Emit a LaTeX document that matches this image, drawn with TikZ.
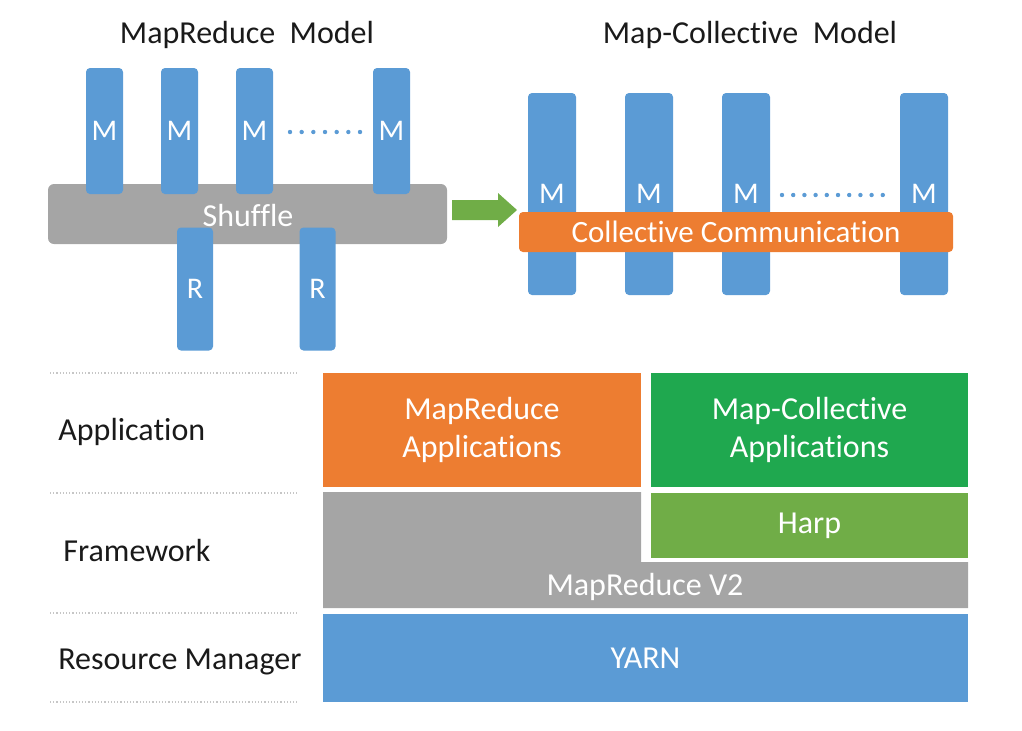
\documentclass[tikz,border=0pt]{standalone}
\usepackage{fontspec}
\setmainfont{Carlito}[Ligatures={NoCommon}]
\usetikzlibrary{calc}
\definecolor{mblue}{HTML}{5B9BD5}
\definecolor{morange}{HTML}{ED7D31}
\definecolor{mgray}{HTML}{A5A5A5}
\definecolor{mgreen}{HTML}{1FA84F}
\definecolor{hgreen}{HTML}{70AD47}
\definecolor{labtext}{HTML}{1A1A1A}
\begin{document}
\begin{tikzpicture}[x=0.5pt,y=-0.5pt,
  blk/.style={rectangle, inner sep=0pt, text=white, font=\fontsize{16}{19}\selectfont, align=center},
  mbox/.style={blk, fill=mblue, rounded corners=2pt, font=\fontsize{15}{18}\selectfont},
  ttl/.style={font=\fontsize{16}{19}\selectfont, text=labtext, inner sep=0pt},
  layerlab/.style={ttl, anchor=west},
  guide/.style={draw=gray!45, line width=0.6pt, densely dotted}]
\useasboundingbox (0,0) rectangle (1022,730);

% titles
\node[ttl] (t1) at (247,35) {MapReduce\ \ Model};
\node[ttl] (t2) at (750,35) {Map-Collective\ \ Model};

% MapReduce model
\node[blk, fill=mgray, rounded corners=3pt, minimum width=199.5pt, minimum height=30pt] (shuffle) at (247.5,214) {};
\node[blk] (shtext) at (248,215) {Shuffle};
\node[mbox, minimum width=18.5pt, minimum height=63pt] (m1) at (104.5,131) {M};
\node[mbox, minimum width=18.5pt, minimum height=63pt] (m2) at (179.5,131) {M};
\node[mbox, minimum width=18.5pt, minimum height=63pt] (m3) at (254.5,131) {M};
\node[mbox, minimum width=18.5pt, minimum height=63pt] (m4) at (391.5,131) {M};
\node[mbox, minimum width=18pt, minimum height=61.5pt] (r1) at (195,289) {R};
\node[mbox, minimum width=18pt, minimum height=61.5pt] (r2) at (317.5,289) {R};
\foreach \i in {0,...,6} \fill[mblue] (290+\i*11.67,132) circle (1.1pt);

% arrow
\coordinate (atail) at (452,210);
\coordinate (atip) at (517,210);
\fill[hgreen] ($(atail)+(0,-10)$) -- ($(atail)+(46,-10)$) -- ($(atail)+(46,-17)$) -- (atip)
  -- ($(atail)+(46,17)$) -- ($(atail)+(46,10)$) -- ($(atail)+(0,10)$) -- cycle;

% Map-Collective model
\node[mbox, minimum width=24pt, minimum height=101pt] (c1) at (552,194) {M};
\node[mbox, minimum width=24pt, minimum height=101pt] (c2) at (649,194) {M};
\node[mbox, minimum width=24pt, minimum height=101pt] (c3) at (746,194) {M};
\node[mbox, minimum width=24pt, minimum height=101pt] (c4) at (924,194) {M};
\foreach \i in {0,...,9} \fill[mblue] (782+\i*11.2,195) circle (1.1pt);
\node[blk, fill=morange, rounded corners=2pt, minimum width=217pt, minimum height=20pt, font=\fontsize{15.5}{18}\selectfont] (coll) at (736,232) {Collective Communication};

% layers
\draw[guide] (50,373) -- (297,373);
\draw[guide] (50,493) -- (297,493);
\draw[guide] (50,613) -- (297,613);
\draw[guide] (50,702) -- (297,702);
\node[layerlab] (lapp) at (58,432) {Application};
\node[layerlab] (lfw) at (63,550) {Framework};
\node[layerlab] (lrm) at (58,662) {Resource Manager};

\node[blk, fill=morange, minimum width=159pt, minimum height=57pt] (mrapp) at (482,430) {MapReduce\\Applications};
\node[blk, fill=mgreen, minimum width=158.5pt, minimum height=57pt] (mcapp) at (809.5,430) {Map-Collective\\Applications};
\node[blk, fill=hgreen, minimum width=158.5pt, minimum height=32.5pt] (harp) at (809.5,525.5) {Harp};
\fill[mgray] (323,492) -- (641,492) -- (641,562) -- (968,562) -- (968,608) -- (323,608) -- cycle;
\node[blk] (mrv2) at (645,587) {MapReduce V2};
\node[blk, fill=mblue, minimum width=322.5pt, minimum height=44pt] (yarn) at (645.5,658) {YARN};
\end{tikzpicture}
\end{document}
